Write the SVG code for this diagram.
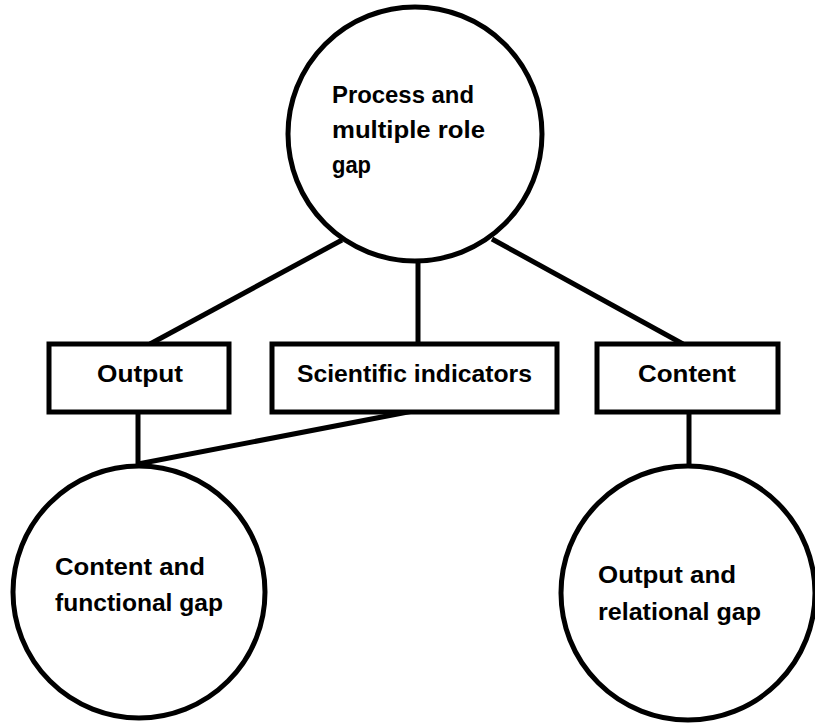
<svg xmlns="http://www.w3.org/2000/svg" width="815" height="724" viewBox="0 0 815 724">
<style>
.shape{fill:#fff;stroke:#000;stroke-width:5}
.conn line{stroke:#000;stroke-width:5;stroke-linecap:butt}
text{font-family:"Liberation Sans",Arial,sans-serif;font-weight:bold;font-size:23px;fill:#000}
</style>
<rect width="815" height="724" fill="#fff"/>
<g id="connectors" class="conn">
<line x1="342" y1="240" x2="150" y2="344"/>
<line x1="418" y1="261" x2="418" y2="344"/>
<line x1="492" y1="239" x2="683" y2="344"/>
<line x1="138" y1="412" x2="138" y2="466"/>
<line x1="413" y1="411" x2="138" y2="464"/>
<line x1="689" y1="412" x2="689" y2="466"/>
</g>
<g id="process-gap">
<circle class="shape" cx="415" cy="134" r="127"/>
<text x="332" y="103" textLength="142" lengthAdjust="spacingAndGlyphs">Process and</text>
<text x="332" y="138" textLength="153" lengthAdjust="spacingAndGlyphs">multiple role</text>
<text x="332" y="173" textLength="39" lengthAdjust="spacingAndGlyphs">gap</text>
</g>
<g id="output">
<rect class="shape" x="49" y="344" width="180" height="68"/>
<text x="97" y="382" textLength="86" lengthAdjust="spacingAndGlyphs">Output</text>
</g>
<g id="scientific-indicators">
<rect class="shape" x="272" y="344" width="285" height="68"/>
<text x="297" y="382" textLength="235" lengthAdjust="spacingAndGlyphs">Scientific indicators</text>
</g>
<g id="content">
<rect class="shape" x="597" y="344" width="181" height="68"/>
<text x="638" y="382" textLength="98" lengthAdjust="spacingAndGlyphs">Content</text>
</g>
<g id="content-functional-gap">
<circle class="shape" cx="139" cy="592" r="126"/>
<text x="55" y="575" textLength="150" lengthAdjust="spacingAndGlyphs">Content and</text>
<text x="55" y="611" textLength="168" lengthAdjust="spacingAndGlyphs">functional gap</text>
</g>
<g id="output-relational-gap">
<circle class="shape" cx="688" cy="593" r="127"/>
<text x="598" y="583" textLength="138" lengthAdjust="spacingAndGlyphs">Output and</text>
<text x="598" y="620" textLength="163" lengthAdjust="spacingAndGlyphs">relational gap</text>
</g>
</svg>
